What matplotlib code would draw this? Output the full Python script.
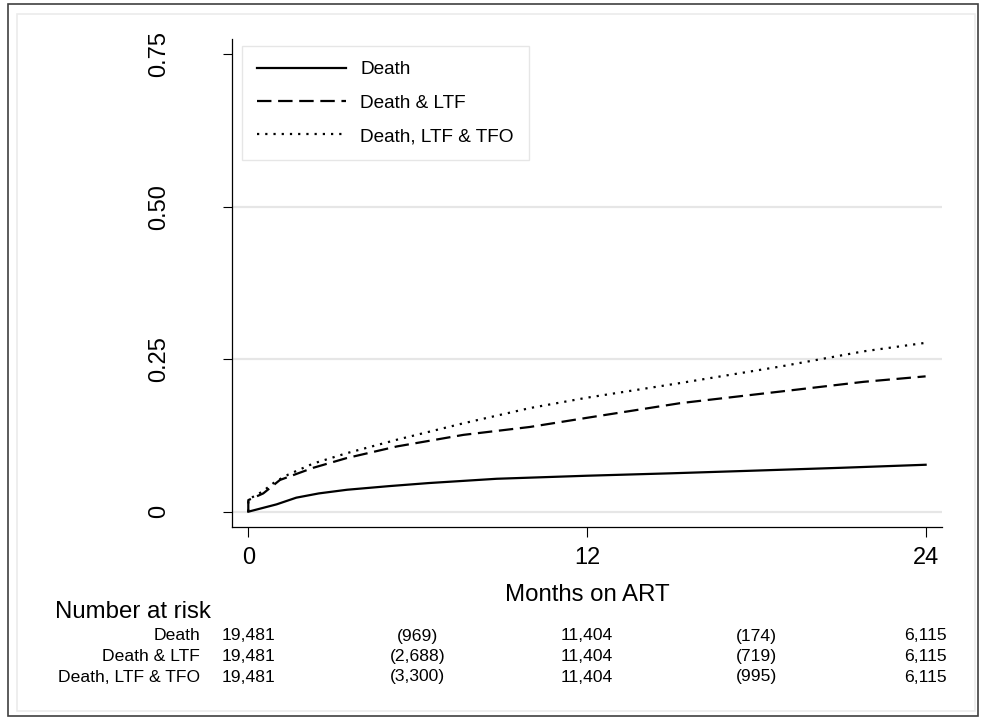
import matplotlib
matplotlib.use("Agg")
import matplotlib.pyplot as plt
import matplotlib.transforms as mtransforms
from matplotlib.patches import Rectangle

plt.rcParams['font.family'] = ['Liberation Sans', 'DejaVu Sans']

# ---- data ----
t_death = [0, 0.5, 1.0, 1.7, 2.5, 3.5, 5.0, 6.4, 8.8, 12.0, 15.0, 17.7, 21.0, 24.0]
v_death = [0, 0.006, 0.012, 0.023, 0.030, 0.036, 0.042, 0.047, 0.054, 0.059, 0.063, 0.067, 0.072, 0.077]

t_ltf = [0, 0, 0.53, 1.12, 2.3, 3.49, 5.26, 7.62, 9.98, 12.0, 15.3, 18.84, 21.8, 24.0]
v_ltf = [0, 0.019, 0.030, 0.052, 0.072, 0.088, 0.107, 0.126, 0.139, 0.154, 0.178, 0.197, 0.213, 0.222]

t_tfo = [0, 0, 0.5, 0.95, 1.42, 2.3, 3.49, 5.26, 7.62, 9.98, 12.0, 15.3, 18.84, 21.8, 24.0]
v_tfo = [0, 0.020, 0.033, 0.049, 0.061, 0.079, 0.096, 0.118, 0.145, 0.170, 0.187, 0.211, 0.238, 0.263, 0.277]

series_names = ["Death", "Death & LTF", "Death, LTF & TFO"]
risk_times = [0, 6, 12, 18, 24]
risk_table = [
    ["19,481", "(969)", "11,404", "(174)", "6,115"],
    ["19,481", "(2,688)", "11,404", "(719)", "6,115"],
    ["19,481", "(3,300)", "11,404", "(995)", "6,115"],
]
y_ticks = [0, 0.25, 0.5, 0.75]
y_ticklabels = ["0", "0.25", "0.50", "0.75"]
x_ticks = [0, 12, 24]

W, H = 981, 720
fig = plt.figure(figsize=(W / 100, H / 100), dpi=100)

# graph region frames
fig.patches.append(Rectangle((8 / W, 4 / H), 970 / W, 712 / H, transform=fig.transFigure,
                             fill=False, edgecolor="#404040", lw=1.2))
fig.patches.append(Rectangle((17 / W, 9 / H), 958 / W, 697 / H, transform=fig.transFigure,
                             fill=False, edgecolor="#ebebeb", lw=1.2))

ax = fig.add_axes([232.3 / W, 1 - 527 / H, (941.7 - 232.3) / W, (527 - 38.6) / H])
ax.set_xlim(-0.567, 24.57)
ax.set_ylim(-0.0251, 0.776)

for yv in [0, 0.25, 0.5]:
    ax.axhline(yv, color="#e6e6e6", lw=1.6, zorder=0)

lw = 1.6
ax.plot(t_death, v_death, color="black", lw=lw, label=series_names[0])
ax.plot(t_ltf, v_ltf, color="black", lw=lw, dashes=(6.5, 3), label=series_names[1])
ax.plot(t_tfo, v_tfo, color="black", lw=lw, dashes=(1, 2.7), label=series_names[2])

for s in ["top", "right"]:
    ax.spines[s].set_visible(False)
for s in ["left", "bottom"]:
    ax.spines[s].set_linewidth(0.9)

ax.set_yticks(y_ticks)
ax.set_yticklabels(y_ticklabels, rotation=90, va="center")
ax.set_xticks(x_ticks)
ax.tick_params(axis="y", length=6.7, width=0.8, pad=38, labelsize=17)
ax.tick_params(axis="x", length=7.2, width=0.8, pad=7, labelsize=17)
ax.set_xlabel("Months on ART", fontsize=17.3, labelpad=11)

leg = ax.legend(loc="upper left", bbox_to_anchor=(9.4 / 709.4, 1 - 7.4 / 488.4),
                fontsize=13.7, frameon=True, fancybox=False, handlelength=4.7,
                handletextpad=0.75, labelspacing=0.85, borderpad=0.78, borderaxespad=0)
leg.get_frame().set_edgecolor("#e0e0e0")
leg.get_frame().set_linewidth(1.0)

# number at risk table
trans = mtransforms.blended_transform_factory(ax.transData, fig.transFigure)
fig.text(55 / W, 1 - 611.7 / H, "Number at risk", fontsize=17.3, va="center", ha="left")
row_y = [636, 656.7, 677]
for name, row, yy in zip(series_names, risk_table, row_y):
    fig.text(200 / W, 1 - yy / H, name, fontsize=12.6, ha="right", va="center")
    for tt, val in zip(risk_times, row):
        ax.text(tt, 1 - yy / H, val, transform=trans, fontsize=12.6,
                ha="center", va="center", clip_on=False)

fig.savefig("out.png", dpi=100)
